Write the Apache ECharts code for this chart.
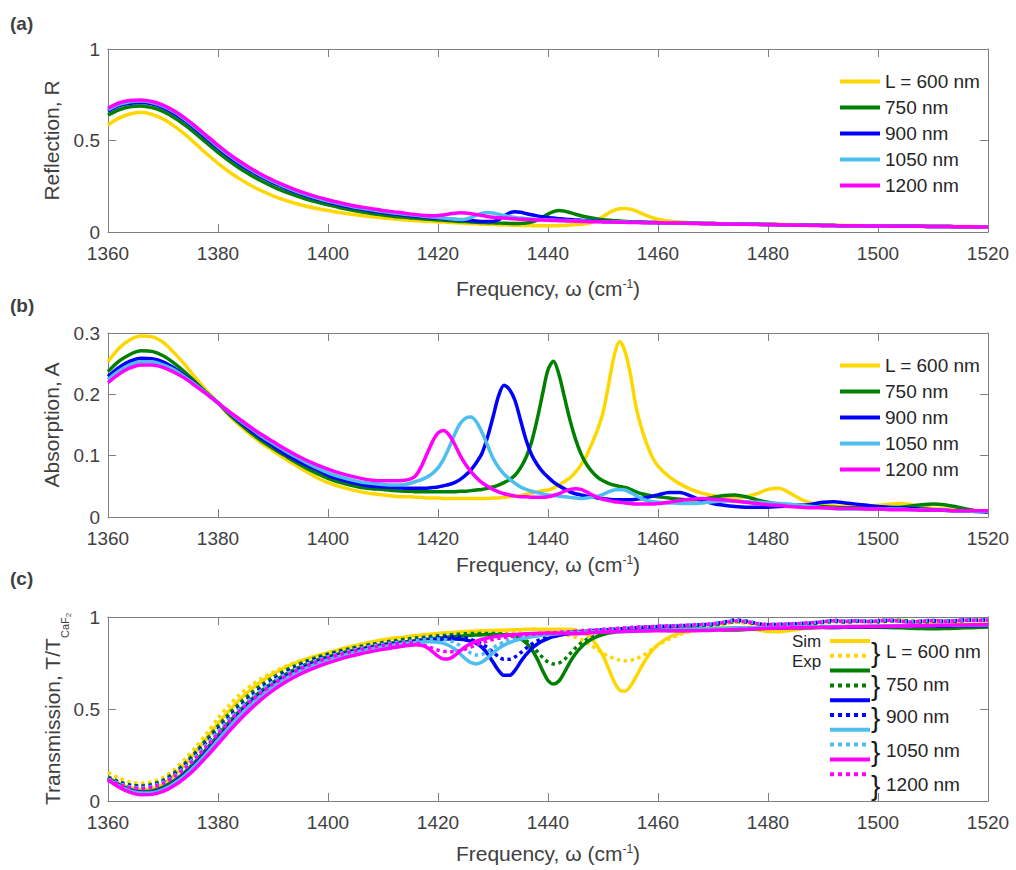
<!DOCTYPE html>
<html>
<head>
<meta charset="utf-8">
<script src="https://cdn.jsdelivr.net/npm/echarts@6/dist/echarts.min.js"></script>
<style>
	html, body { margin: 0; background: #fff; }
	#chart { width: 1016px; height: 870px; }
</style>
</head>
<body>
<div id="chart"></div>
<script>
// frequency grid (cm-1), finer around the resonances
const freq = [
	1360,1362,1364,1366,1368,1370,1372,1374,1376,1378,1380,1382,1384,1386,1388,1390,1392,1394,1396,1398,1400,1402,1404,1406,1408,1410,1412,
	1414,1415,1416,1417,1418,1419,1420,1421,1422,1423,
	1424,1425,1426,1427,1428,1429,1430,1431,1432,1433,
	1434,1435,1436,1437,1438,1439,1440,1441,1442,1443,
	1444,1445,1446,1447,1448,1449,1450,1451,1452,1453,
	1454,1455,1456,1457,1458,1459,1460,
	1462,1464,1466,1468,1470,1472,1474,1476,1478,1480,
	1482,1484,1486,1488,1490,1492,1494,1496,1498,1500,
	1502,1504,1506,1508,1510,1512,1514,1516,1518,1520,
]

const lengthLabels = ['L = 600 nm', '750 nm', '900 nm', '1050 nm', '1200 nm']
const lineColors = ['#FFD700', '#008000', '#0000FF', '#4DBEEE', '#FF00FF']
const xTicks = { min: 1360, max: 1520, step: 20 }

// (a) reflection
const reflL600 = [
	0.585,0.622,0.645,0.654,0.643,0.618,0.580,0.533,0.480,0.426,0.375,0.329,0.289,0.254,0.224,0.198,0.176,0.157,0.141,0.128,0.117,0.107,0.098,0.090,0.083,0.077,0.071,
	0.066,0.064,0.062,0.060,0.058,0.057,0.055,0.054,0.052,0.051,
	0.049,0.048,0.046,0.045,0.043,0.042,0.041,0.040,0.039,0.038,
	0.037,0.036,0.035,0.035,0.034,0.034,0.034,0.034,0.035,0.036,
	0.038,0.040,0.042,0.045,0.053,0.067,0.085,0.103,0.118,0.127,
	0.129,0.125,0.115,0.102,0.089,0.078,0.070,
	0.060,0.054,0.050,0.047,0.045,0.044,0.043,0.042,0.042,0.042,
	0.042,0.041,0.040,0.039,0.038,0.037,0.036,0.035,0.034,0.034,
	0.033,0.033,0.032,0.032,0.031,0.031,0.030,0.030,0.029,0.029,
]
const reflL750 = [
	0.639,0.668,0.684,0.689,0.680,0.659,0.626,0.584,0.536,0.485,0.435,0.389,0.347,0.310,0.277,0.248,0.222,0.200,0.180,0.163,0.148,0.134,0.122,0.111,0.101,0.093,0.085,
	0.080,0.077,0.075,0.072,0.070,0.068,0.066,0.064,0.062,0.060,
	0.058,0.057,0.055,0.053,0.052,0.051,0.050,0.049,0.048,0.047,
	0.046,0.047,0.049,0.054,0.065,0.081,0.098,0.111,0.117,0.114,
	0.106,0.097,0.089,0.082,0.076,0.071,0.067,0.064,0.062,0.060,
	0.058,0.056,0.055,0.054,0.053,0.052,0.051,
	0.050,0.049,0.048,0.047,0.046,0.045,0.044,0.043,0.042,0.041,
	0.040,0.039,0.038,0.037,0.036,0.035,0.034,0.034,0.033,0.033,
	0.032,0.032,0.031,0.031,0.030,0.030,0.029,0.029,0.028,0.028,
]
const reflL900 = [
	0.660,0.690,0.704,0.708,0.700,0.680,0.648,0.607,0.560,0.509,0.458,0.411,0.369,0.332,0.299,0.269,0.243,0.219,0.198,0.180,0.163,0.149,0.136,0.125,0.115,0.106,0.098,
	0.092,0.089,0.086,0.083,0.080,0.077,0.075,0.072,0.070,0.068,
	0.066,0.064,0.062,0.060,0.058,0.057,0.058,0.067,0.086,0.104,
	0.111,0.108,0.101,0.094,0.088,0.083,0.079,0.076,0.073,0.070,
	0.068,0.066,0.064,0.062,0.061,0.060,0.058,0.057,0.056,0.055,
	0.054,0.054,0.053,0.053,0.052,0.052,0.051,
	0.050,0.049,0.048,0.047,0.046,0.045,0.044,0.043,0.042,0.041,
	0.040,0.039,0.038,0.037,0.036,0.035,0.034,0.034,0.033,0.033,
	0.032,0.032,0.031,0.031,0.030,0.030,0.029,0.029,0.028,0.028,
]
const reflL1050 = [
	0.668,0.697,0.712,0.716,0.708,0.688,0.657,0.616,0.569,0.518,0.467,0.420,0.378,0.340,0.306,0.276,0.249,0.225,0.204,0.185,0.169,0.155,0.142,0.131,0.121,0.112,0.104,
	0.097,0.094,0.091,0.088,0.085,0.082,0.079,0.076,0.073,0.070,
	0.068,0.070,0.078,0.092,0.103,0.107,0.104,0.097,0.090,0.085,
	0.080,0.076,0.073,0.071,0.069,0.067,0.066,0.065,0.064,0.063,
	0.062,0.061,0.060,0.059,0.058,0.057,0.056,0.055,0.055,0.054,
	0.054,0.053,0.053,0.052,0.052,0.051,0.051,
	0.050,0.049,0.048,0.047,0.046,0.045,0.044,0.043,0.042,0.041,
	0.040,0.039,0.038,0.037,0.036,0.035,0.034,0.034,0.033,0.033,
	0.032,0.032,0.031,0.031,0.030,0.030,0.029,0.029,0.028,0.028,
]
const reflL1200 = [
	0.676,0.705,0.718,0.721,0.713,0.693,0.662,0.622,0.575,0.524,0.474,0.427,0.385,0.347,0.313,0.283,0.256,0.232,0.211,0.192,0.176,0.161,0.148,0.137,0.127,0.118,0.110,
	0.102,0.099,0.095,0.092,0.090,0.089,0.090,0.093,0.098,0.102,
	0.105,0.104,0.100,0.095,0.090,0.085,0.081,0.078,0.076,0.074,
	0.072,0.070,0.069,0.067,0.066,0.065,0.064,0.063,0.062,0.061,
	0.060,0.059,0.058,0.057,0.056,0.056,0.055,0.054,0.054,0.053,
	0.053,0.052,0.052,0.051,0.051,0.050,0.050,
	0.049,0.048,0.047,0.046,0.045,0.044,0.043,0.042,0.041,0.040,
	0.039,0.038,0.037,0.036,0.035,0.035,0.034,0.034,0.033,0.033,
	0.032,0.032,0.031,0.031,0.030,0.030,0.029,0.029,0.028,0.028,
]

// (b) absorption
const absL600 = [
	0.253,0.275,0.289,0.295,0.294,0.285,0.268,0.248,0.226,0.205,0.186,0.166,0.149,0.134,0.120,0.108,0.096,0.085,0.074,0.064,0.056,0.050,0.045,0.041,0.038,0.036,0.034,
	0.033,0.033,0.032,0.032,0.031,0.031,0.031,0.030,0.030,0.030,
	0.030,0.030,0.030,0.030,0.030,0.030,0.031,0.031,0.032,0.033,
	0.034,0.035,0.037,0.039,0.041,0.043,0.044,0.047,0.052,0.058,
	0.064,0.073,0.085,0.100,0.120,0.142,0.170,0.215,0.262,0.286,
	0.270,0.232,0.180,0.145,0.118,0.097,0.083,
	0.066,0.054,0.045,0.039,0.035,0.032,0.031,0.033,0.038,0.045,
	0.047,0.039,0.029,0.022,0.019,0.018,0.017,0.017,0.018,0.019,
	0.021,0.022,0.020,0.016,0.014,0.013,0.012,0.011,0.010,0.009,
]
const absL750 = [
	0.237,0.254,0.265,0.271,0.270,0.263,0.251,0.236,0.219,0.202,0.186,0.168,0.152,0.137,0.124,0.112,0.101,0.090,0.080,0.071,0.063,0.057,0.052,0.048,0.046,0.045,0.043,
	0.042,0.042,0.041,0.041,0.041,0.041,0.041,0.041,0.041,0.041,
	0.042,0.042,0.043,0.044,0.045,0.047,0.049,0.052,0.056,0.061,
	0.068,0.080,0.097,0.122,0.158,0.200,0.240,0.254,0.232,0.195,
	0.158,0.127,0.103,0.086,0.074,0.065,0.059,0.055,0.052,0.050,
	0.048,0.045,0.041,0.038,0.036,0.034,0.033,
	0.031,0.029,0.028,0.029,0.032,0.035,0.036,0.033,0.028,0.024,
	0.021,0.020,0.019,0.018,0.017,0.016,0.015,0.015,0.014,0.014,
	0.015,0.016,0.018,0.020,0.021,0.020,0.017,0.013,0.010,0.008,
]
const absL900 = [
	0.229,0.244,0.254,0.259,0.258,0.253,0.243,0.230,0.216,0.201,0.186,0.170,0.155,0.141,0.128,0.116,0.104,0.094,0.085,0.077,0.068,0.062,0.057,0.053,0.050,0.049,0.048,
	0.047,0.047,0.047,0.047,0.047,0.048,0.049,0.051,0.053,0.056,
	0.061,0.068,0.077,0.089,0.104,0.130,0.163,0.197,0.215,0.208,
	0.190,0.158,0.126,0.102,0.086,0.074,0.065,0.057,0.051,0.046,
	0.041,0.038,0.036,0.034,0.033,0.031,0.030,0.029,0.028,0.028,
	0.028,0.028,0.029,0.030,0.032,0.034,0.036,
	0.040,0.040,0.034,0.027,0.022,0.019,0.017,0.016,0.016,0.016,
	0.017,0.018,0.019,0.021,0.024,0.025,0.023,0.021,0.019,0.017,
	0.016,0.015,0.014,0.013,0.012,0.011,0.010,0.010,0.009,0.008,
]
const absL1050 = [
	0.224,0.238,0.248,0.253,0.253,0.248,0.240,0.228,0.215,0.201,0.186,0.171,0.157,0.144,0.131,0.120,0.109,0.099,0.089,0.080,0.072,0.066,0.061,0.057,0.055,0.053,0.052,
	0.053,0.055,0.058,0.061,0.065,0.071,0.080,0.094,0.113,0.134,
	0.152,0.161,0.163,0.155,0.138,0.117,0.096,0.081,0.070,0.062,
	0.055,0.049,0.045,0.042,0.040,0.038,0.036,0.035,0.034,0.033,
	0.032,0.031,0.030,0.031,0.032,0.034,0.037,0.041,0.044,0.045,
	0.044,0.040,0.035,0.030,0.027,0.025,0.024,
	0.023,0.022,0.022,0.023,0.025,0.026,0.026,0.025,0.024,0.023,
	0.022,0.021,0.019,0.017,0.015,0.014,0.013,0.013,0.013,0.013,
	0.013,0.013,0.012,0.012,0.011,0.011,0.010,0.010,0.009,0.009,
]
const absL1200 = [
	0.219,0.233,0.243,0.248,0.248,0.244,0.236,0.226,0.213,0.200,0.186,0.172,0.159,0.146,0.134,0.123,0.112,0.102,0.093,0.085,0.078,0.072,0.067,0.063,0.060,0.059,0.059,
	0.060,0.062,0.068,0.083,0.103,0.123,0.137,0.141,0.134,0.119,
	0.101,0.086,0.074,0.064,0.056,0.050,0.045,0.041,0.038,0.036,
	0.034,0.033,0.033,0.032,0.032,0.032,0.033,0.035,0.038,0.042,
	0.045,0.046,0.045,0.041,0.036,0.032,0.029,0.027,0.025,0.024,
	0.023,0.022,0.021,0.021,0.021,0.021,0.022,
	0.024,0.027,0.029,0.030,0.029,0.028,0.026,0.024,0.022,0.020,
	0.019,0.017,0.016,0.015,0.015,0.014,0.014,0.014,0.013,0.013,
	0.012,0.012,0.012,0.011,0.011,0.011,0.010,0.010,0.010,0.010,
]

// (c) transmission, simulated
const simL600 = [
	0.130,0.095,0.072,0.062,0.065,0.090,0.140,0.200,0.270,0.345,0.420,0.490,0.553,0.607,0.652,0.690,0.722,0.749,0.771,0.790,0.806,0.823,0.838,0.852,0.865,0.876,0.886,
	0.891,0.895,0.899,0.902,0.905,0.908,0.911,0.913,0.915,0.917,
	0.919,0.921,0.922,0.924,0.925,0.926,0.927,0.928,0.929,0.930,
	0.931,0.932,0.932,0.933,0.933,0.934,0.934,0.934,0.934,0.934,
	0.934,0.930,0.920,0.905,0.880,0.840,0.790,0.720,0.650,0.603,
	0.597,0.625,0.675,0.730,0.780,0.820,0.850,
	0.890,0.912,0.925,0.932,0.937,0.940,0.941,0.938,0.930,0.921,
	0.920,0.927,0.935,0.941,0.945,0.947,0.948,0.949,0.950,0.951,
	0.952,0.953,0.954,0.955,0.956,0.957,0.958,0.959,0.960,0.960,
]
const simL750 = [
	0.125,0.090,0.063,0.052,0.055,0.075,0.110,0.158,0.218,0.286,0.357,0.427,0.492,0.550,0.601,0.645,0.683,0.715,0.742,0.765,0.784,0.800,0.815,0.828,0.840,0.850,0.860,
	0.864,0.868,0.872,0.876,0.879,0.883,0.886,0.889,0.891,0.894,
	0.896,0.898,0.900,0.902,0.903,0.904,0.905,0.905,0.904,0.900,
	0.893,0.880,0.860,0.825,0.775,0.710,0.655,0.636,0.652,0.700,
	0.755,0.800,0.835,0.862,0.880,0.895,0.905,0.913,0.918,0.922,
	0.925,0.927,0.930,0.931,0.933,0.934,0.935,
	0.937,0.938,0.939,0.938,0.934,0.930,0.929,0.932,0.936,0.939,
	0.940,0.941,0.942,0.942,0.943,0.943,0.944,0.944,0.944,0.944,
	0.943,0.941,0.939,0.937,0.936,0.937,0.939,0.941,0.943,0.945,
]
const simL900 = [
	0.120,0.085,0.058,0.046,0.048,0.066,0.100,0.146,0.204,0.270,0.340,0.410,0.476,0.535,0.587,0.632,0.671,0.704,0.732,0.756,0.776,0.793,0.808,0.822,0.834,0.845,0.855,
	0.860,0.864,0.868,0.871,0.874,0.876,0.878,0.880,0.881,0.881,
	0.879,0.875,0.868,0.856,0.835,0.800,0.755,0.710,0.683,0.683,
	0.710,0.755,0.795,0.828,0.852,0.870,0.883,0.893,0.900,0.906,
	0.910,0.913,0.916,0.918,0.920,0.922,0.923,0.924,0.925,0.926,
	0.927,0.927,0.928,0.929,0.930,0.930,0.929,
	0.927,0.926,0.928,0.931,0.934,0.936,0.938,0.939,0.940,0.941,
	0.942,0.943,0.943,0.944,0.944,0.943,0.944,0.945,0.946,0.947,
	0.948,0.949,0.950,0.950,0.951,0.951,0.952,0.952,0.953,0.953,
]
const simL1050 = [
	0.118,0.082,0.055,0.043,0.045,0.062,0.095,0.140,0.197,0.262,0.331,0.400,0.466,0.525,0.577,0.622,0.661,0.694,0.722,0.747,0.768,0.786,0.802,0.816,0.828,0.839,0.848,
	0.856,0.859,0.862,0.864,0.866,0.866,0.863,0.857,0.845,0.826,
	0.800,0.772,0.752,0.745,0.755,0.778,0.805,0.828,0.847,0.861,
	0.872,0.880,0.887,0.892,0.897,0.901,0.904,0.907,0.909,0.911,
	0.913,0.915,0.916,0.918,0.919,0.920,0.921,0.921,0.921,0.920,
	0.920,0.921,0.922,0.924,0.926,0.927,0.928,
	0.930,0.932,0.934,0.936,0.938,0.939,0.940,0.941,0.942,0.943,
	0.944,0.945,0.946,0.947,0.948,0.948,0.949,0.950,0.950,0.951,
	0.952,0.952,0.953,0.954,0.954,0.955,0.955,0.956,0.956,0.957,
]
const simL1200 = [
	0.114,0.075,0.047,0.034,0.036,0.052,0.083,0.126,0.180,0.243,0.310,0.378,0.443,0.502,0.555,0.601,0.641,0.675,0.704,0.729,0.751,0.770,0.786,0.800,0.813,0.824,0.834,
	0.843,0.847,0.849,0.846,0.834,0.812,0.787,0.772,0.773,0.790,
	0.815,0.838,0.856,0.869,0.879,0.886,0.892,0.896,0.900,0.903,
	0.905,0.907,0.909,0.910,0.912,0.912,0.913,0.913,0.912,0.911,
	0.910,0.909,0.910,0.912,0.914,0.916,0.918,0.919,0.920,0.921,
	0.922,0.923,0.923,0.924,0.924,0.925,0.925,
	0.925,0.925,0.925,0.926,0.928,0.930,0.932,0.934,0.936,0.938,
	0.940,0.941,0.942,0.943,0.944,0.945,0.946,0.947,0.948,0.949,
	0.950,0.951,0.952,0.953,0.954,0.955,0.956,0.957,0.958,0.959,
]

// (c) transmission, measured
const expL600 = [
	0.154,0.125,0.103,0.097,0.104,0.128,0.170,0.228,0.295,0.370,0.450,0.520,0.580,0.628,0.668,0.700,0.728,0.752,0.772,0.789,0.803,0.816,0.828,0.839,0.849,0.858,0.866,
	0.873,0.876,0.879,0.882,0.884,0.886,0.888,0.891,0.893,0.896,
	0.898,0.901,0.904,0.907,0.910,0.913,0.915,0.917,0.919,0.921,
	0.924,0.928,0.932,0.935,0.933,0.928,0.922,0.915,0.910,0.905,
	0.898,0.890,0.878,0.862,0.843,0.822,0.803,0.787,0.775,0.766,
	0.762,0.765,0.773,0.787,0.805,0.826,0.846,
	0.880,0.905,0.922,0.935,0.945,0.960,0.972,0.966,0.957,0.952,
	0.955,0.958,0.962,0.965,0.972,0.978,0.974,0.978,0.973,0.976,
	0.980,0.985,0.970,0.965,0.975,0.978,0.975,0.980,0.984,0.980,
]
const expL750 = [
	0.130,0.105,0.088,0.083,0.090,0.113,0.152,0.205,0.268,0.337,0.407,0.473,0.533,0.586,0.632,0.672,0.706,0.735,0.760,0.781,0.799,0.815,0.829,0.841,0.852,0.862,0.871,
	0.879,0.883,0.886,0.889,0.892,0.895,0.898,0.900,0.903,0.905,
	0.907,0.909,0.910,0.911,0.911,0.910,0.910,0.909,0.907,0.903,
	0.896,0.886,0.871,0.849,0.814,0.781,0.756,0.745,0.750,0.770,
	0.800,0.832,0.858,0.877,0.890,0.900,0.907,0.913,0.917,0.921,
	0.924,0.927,0.930,0.932,0.934,0.936,0.938,
	0.941,0.945,0.948,0.952,0.956,0.965,0.975,0.972,0.962,0.955,
	0.957,0.960,0.958,0.963,0.970,0.975,0.972,0.976,0.978,0.974,
	0.977,0.982,0.978,0.972,0.976,0.979,0.977,0.981,0.983,0.980,
]
const expL900 = [
	0.125,0.100,0.083,0.078,0.085,0.107,0.144,0.194,0.254,0.321,0.390,0.455,0.515,0.569,0.617,0.658,0.694,0.724,0.750,0.772,0.791,0.807,0.821,0.834,0.845,0.855,0.864,
	0.868,0.872,0.875,0.879,0.882,0.885,0.888,0.890,0.892,0.892,
	0.890,0.885,0.877,0.866,0.852,0.833,0.808,0.785,0.770,0.770,
	0.783,0.805,0.830,0.852,0.870,0.884,0.894,0.902,0.908,0.912,
	0.916,0.919,0.922,0.924,0.926,0.928,0.930,0.931,0.933,0.935,
	0.937,0.939,0.941,0.943,0.945,0.946,0.948,
	0.950,0.952,0.955,0.958,0.962,0.972,0.984,0.978,0.965,0.958,
	0.960,0.962,0.965,0.968,0.975,0.982,0.977,0.980,0.975,0.979,
	0.983,0.978,0.972,0.978,0.981,0.976,0.980,0.985,0.982,0.986,
]
const expL1050 = [
	0.120,0.095,0.078,0.073,0.080,0.101,0.137,0.186,0.245,0.311,0.379,0.444,0.504,0.558,0.606,0.648,0.684,0.715,0.742,0.765,0.785,0.802,0.817,0.830,0.842,0.852,0.861,
	0.865,0.869,0.872,0.875,0.878,0.879,0.880,0.878,0.872,0.862,
	0.845,0.823,0.803,0.793,0.797,0.812,0.832,0.850,0.865,0.877,
	0.886,0.893,0.898,0.902,0.906,0.909,0.912,0.914,0.916,0.918,
	0.920,0.922,0.924,0.926,0.928,0.930,0.932,0.934,0.936,0.938,
	0.940,0.942,0.944,0.946,0.947,0.948,0.950,
	0.952,0.954,0.957,0.960,0.964,0.974,0.980,0.976,0.966,0.960,
	0.961,0.963,0.966,0.970,0.976,0.980,0.978,0.981,0.977,0.980,
	0.984,0.979,0.974,0.979,0.982,0.978,0.981,0.984,0.983,0.985,
]
const expL1200 = [
	0.115,0.090,0.073,0.068,0.075,0.096,0.131,0.178,0.235,0.299,0.365,0.430,0.490,0.544,0.592,0.635,0.672,0.704,0.732,0.756,0.777,0.795,0.810,0.823,0.835,0.845,0.853,
	0.858,0.860,0.858,0.850,0.840,0.830,0.820,0.814,0.811,0.812,
	0.817,0.826,0.837,0.849,0.860,0.870,0.878,0.884,0.889,0.893,
	0.897,0.900,0.903,0.906,0.909,0.911,0.913,0.915,0.917,0.919,
	0.921,0.923,0.925,0.927,0.929,0.931,0.933,0.935,0.937,0.939,
	0.941,0.943,0.945,0.946,0.947,0.948,0.950,
	0.952,0.954,0.956,0.959,0.963,0.970,0.978,0.974,0.964,0.958,
	0.960,0.962,0.965,0.969,0.974,0.979,0.976,0.979,0.975,0.978,
	0.982,0.977,0.972,0.977,0.980,0.977,0.980,0.983,0.981,0.984,
]

const reflSets = [reflL600, reflL750, reflL900, reflL1050, reflL1200]
const absSets = [absL600, absL750, absL900, absL1050, absL1200]
const simSets = [simL600, simL750, simL900, simL1050, simL1200]
const expSets = [expL600, expL750, expL900, expL1050, expL1200]

const font = '"Liberation Sans", Arial, sans-serif'
const axisGray = '#7f7f7f'
const textGray = '#404040'

const chart = echarts.init(document.getElementById('chart'), null, { renderer: 'svg' })

const toPoints = (ys) => freq.map((f, i) => [f, ys[i]])

const makeLine = (name, ys, color, axisIdx, dash) => ({
	name: name,
	type: 'line',
	xAxisIndex: axisIdx,
	yAxisIndex: axisIdx,
	data: toPoints(ys),
	symbol: 'none',
	smooth: 0.3,
	lineStyle: { color: color, width: 3.5, type: dash || 'solid' },
	itemStyle: { color: color },
	animation: false,
})

// panel layout: one grid per panel, bottom/left axes carry labels, top/right axes close the box
const panels = [
	{ top: 49, height: 183, yMax: 1, yStep: 0.5, yName: 'Reflection, R', xGap: 46, yGap: 46 },
	{ top: 333, height: 184, yMax: 0.3, yStep: 0.1, yName: 'Absorption, A', xGap: 37, yGap: 46 },
	{ top: 617, height: 184, yMax: 1, yStep: 0.5, yName: '{m|Transmission, T/T}{s|CaF}{ss|2}', xGap: 42, yGap: 36 },
]

const grids = []
const xAxes = []
const yAxes = []

const boxLine = { onZero: false, lineStyle: { color: axisGray, width: 1 } }
const innerTick = { inside: true, length: 8, lineStyle: { color: axisGray } }
const plainNumber = (v) => String(v)

panels.forEach((p, i) => {
	grids.push({ left: 108, right: 28, top: p.top, height: p.height })

	xAxes.push({
		gridIndex: i,
		type: 'value',
		position: 'bottom',
		min: xTicks.min,
		max: xTicks.max,
		interval: xTicks.step,
		axisLine: boxLine,
		axisTick: innerTick,
		splitLine: { show: false },
		axisLabel: { fontSize: 19, color: textGray, fontFamily: font, margin: 12, formatter: plainNumber },
		name: '{m|Frequency, ω (cm}{sup|-1}{m|)}',
		nameLocation: 'middle',
		nameGap: p.xGap,
		nameTextStyle: {
			color: textGray,
			fontFamily: font,
			fontSize: 21,
			rich: {
				m: { fontSize: 21, color: textGray, fontFamily: font, verticalAlign: 'top' },
				sup: { fontSize: 12, color: textGray, fontFamily: font, verticalAlign: 'top' },
			},
		},
	})
	xAxes.push({
		gridIndex: i,
		type: 'value',
		position: 'top',
		min: xTicks.min,
		max: xTicks.max,
		interval: xTicks.step,
		axisLine: boxLine,
		axisTick: innerTick,
		splitLine: { show: false },
		axisLabel: { show: false },
	})

	yAxes.push({
		gridIndex: i,
		type: 'value',
		position: 'left',
		min: 0,
		max: p.yMax,
		interval: p.yStep,
		axisLine: boxLine,
		axisTick: innerTick,
		splitLine: { show: false },
		axisLabel: { fontSize: 19, color: textGray, fontFamily: font, margin: 8, formatter: plainNumber },
		name: p.yName,
		nameLocation: 'middle',
		nameGap: p.yGap,
		nameMoveOverlap: false,
		nameTextStyle: {
			color: textGray,
			fontFamily: font,
			fontSize: 21,
			rich: {
				m: { fontSize: 21, color: textGray, fontFamily: font, verticalAlign: 'top' },
				s: { fontSize: 11, color: textGray, fontFamily: font, verticalAlign: 'top', padding: [17, 0, 0, 0] },
				ss: { fontSize: 8, color: textGray, fontFamily: font, verticalAlign: 'top', padding: [22, 0, 0, 0] },
			},
		},
	})
	yAxes.push({
		gridIndex: i,
		type: 'value',
		position: 'right',
		min: 0,
		max: p.yMax,
		interval: p.yStep,
		axisLine: boxLine,
		axisTick: innerTick,
		splitLine: { show: false },
		axisLabel: { show: false },
	})
})

const series = []
lengthLabels.forEach((label, k) => {
	series.push(makeLine('a|' + label, reflSets[k], lineColors[k], 0))
})
lengthLabels.forEach((label, k) => {
	series.push(makeLine('b|' + label, absSets[k], lineColors[k], 2))
})
lengthLabels.forEach((label, k) => {
	series.push(makeLine('csim|' + label, simSets[k], lineColors[k], 4))
	series.push(makeLine('cexp|' + label, expSets[k], lineColors[k], 4, 'dotted'))
})

// legend symbols hidden: only the line sample is shown, as in the figure
const legendBase = {
	orient: 'vertical',
	left: 838,
	padding: 0,
	itemWidth: 40,
	itemHeight: 14,
	itemGap: 7,
	selectedMode: false,
	lineStyle: { width: 4 },
	itemStyle: { opacity: 0 },
	formatter: (n) => n.split('|')[1],
	textStyle: { fontSize: 19, lineHeight: 19, color: '#262626', fontFamily: font },
}

const legends = [
	Object.assign({}, legendBase, { top: 72, data: lengthLabels.map((l) => 'a|' + l) }),
	Object.assign({}, legendBase, { top: 356, data: lengthLabels.map((l) => 'b|' + l) }),
	{
		orient: 'vertical',
		left: 828,
		top: 637,
		padding: 0,
		itemWidth: 40,
		itemHeight: 10,
		itemGap: 6.8,
		selectedMode: false,
		lineStyle: { width: 4 },
		itemStyle: { opacity: 0 },
		formatter: () => '',
		textStyle: { fontSize: 8, lineHeight: 8 },
		data: lengthLabels.flatMap((l) => ['csim|' + l, 'cexp|' + l]),
	},
]

// braces and labels of the Sim / Exp legend in panel (c)
const braceY = [652, 685, 717, 751, 785]
const bracketText = []
lengthLabels.forEach((label, k) => {
	bracketText.push({
		type: 'text',
		x: 871,
		y: braceY[k],
		style: { text: '}', fontSize: 28, fontFamily: font, fill: '#1a1a1a', verticalAlign: 'middle' },
	})
	bracketText.push({
		type: 'text',
		x: 886,
		y: braceY[k] - 1,
		style: { text: label, fontSize: 19, fontFamily: font, fill: '#262626', verticalAlign: 'middle' },
	})
})

const panelTags = [
	{ text: '(a)', y: 23 },
	{ text: '(b)', y: 305 },
	{ text: '(c)', y: 578 },
].map((t) => ({
	type: 'text',
	x: 10,
	y: t.y,
	style: { text: t.text, fontSize: 19, fontWeight: 'bold', fontFamily: font, fill: '#404040', verticalAlign: 'middle' },
}))

const option = {
	backgroundColor: '#fff',
	animation: false,
	grid: grids,
	xAxis: xAxes,
	yAxis: yAxes,
	legend: legends,
	series: series,
	graphic: [
		...panelTags,
		{ type: 'text', x: 792, y: 641, style: { text: 'Sim', fontSize: 17, fontFamily: font, fill: '#262626', verticalAlign: 'middle' } },
		{ type: 'text', x: 792, y: 661, style: { text: 'Exp', fontSize: 17, fontFamily: font, fill: '#262626', verticalAlign: 'middle' } },
		...bracketText,
	],
}

chart.setOption(option)
</script>
</body>
</html>
